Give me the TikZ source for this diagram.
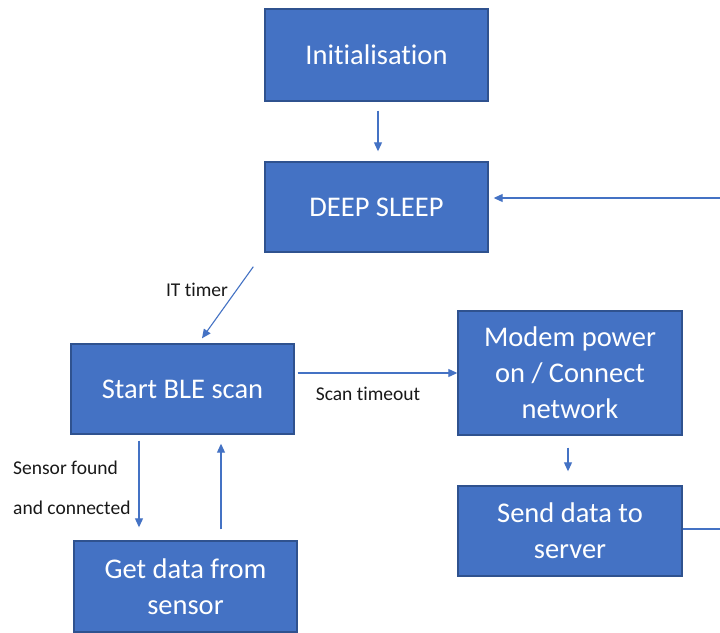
\documentclass[tikz,border=0pt]{standalone}
\usepackage{fontspec}
\setmainfont{Carlito}[Ligatures=NoCommon]
\usetikzlibrary{arrows.meta,calc}
\definecolor{boxfill}{HTML}{4472C4}
\definecolor{boxline}{HTML}{2F528F}
\definecolor{arr}{HTML}{4472C4}
\tikzset{
  procbox/.style={draw=boxline, line width=1.4pt, fill=boxfill, text=white, inner sep=0pt,
    minimum width=223pt, minimum height=90pt, align=center,
    font=\fontsize{28.5}{36}\selectfont},
  conn/.style={draw=arr, line width=1.1pt, -{Triangle[length=9pt,width=8pt]}},
  plainconn/.style={draw=arr, line width=1.1pt},
  lbl/.style={text=black!90, inner sep=0pt, font=\fontsize{19.5}{22}\selectfont}
}
\begin{document}
\begin{tikzpicture}[x=1pt,y=-1pt]
\useasboundingbox[fill=white] (0,0) rectangle (720,632);
\node[procbox, minimum height=92pt] (init) at (376.5,55) {Initialisation};
\node[procbox] (deep) at (376.5,207) {DEEP SLEEP};
\node[procbox] (ble) at (182.5,389) {Start BLE scan};
\node[procbox, minimum height=91pt] (get) at (185.5,586.5) {Get data from\\sensor};
\node[procbox, minimum width=224pt, minimum height=124pt] (modem) at (570,373) {Modem power\\on / Connect\\network};
\node[procbox, minimum width=224pt] (send) at (570,531) {Send data to\\server};
\coordinate (rin) at (720,198);
\coordinate (rout) at (720,529);
% connectors
\draw[conn] ($(init.south)+(1.5,9)$) -- ($(deep.north)+(1.5,-10)$);
\draw[conn] (rin) -- ($(deep.east |- rin)+(5,0)$);
\draw[conn] ($(deep.south west)+(-11,14)$) -- ($(ble.north)+(19.5,-5)$);
\draw[conn] ($(ble.south)+(-43.5,6)$) -- ($(get.north)+(-46.5,-13)$);
\draw[conn] ($(get.north)+(35.5,-11)$) -- ($(ble.south)+(38.5,9)$);
\draw[conn] ($(ble.east)+(3,-16)$) -- (modem.west);
\draw[conn] ($(modem.south)+(-2,12)$) -- ($(send.north)+(-2,-14)$);
\draw[plainconn] ($(send.east)+(0,-2)$) -- (rout);
% labels
\node[lbl] (lit) at (197,290) {IT timer};
\node[lbl] (lscan) at (368,394) {Scan timeout};
\node[lbl, anchor=west] (lsens1) at (13,468) {Sensor found};
\node[lbl, anchor=west] (lsens2) at (13,508) {and connected};
\end{tikzpicture}
\end{document}
